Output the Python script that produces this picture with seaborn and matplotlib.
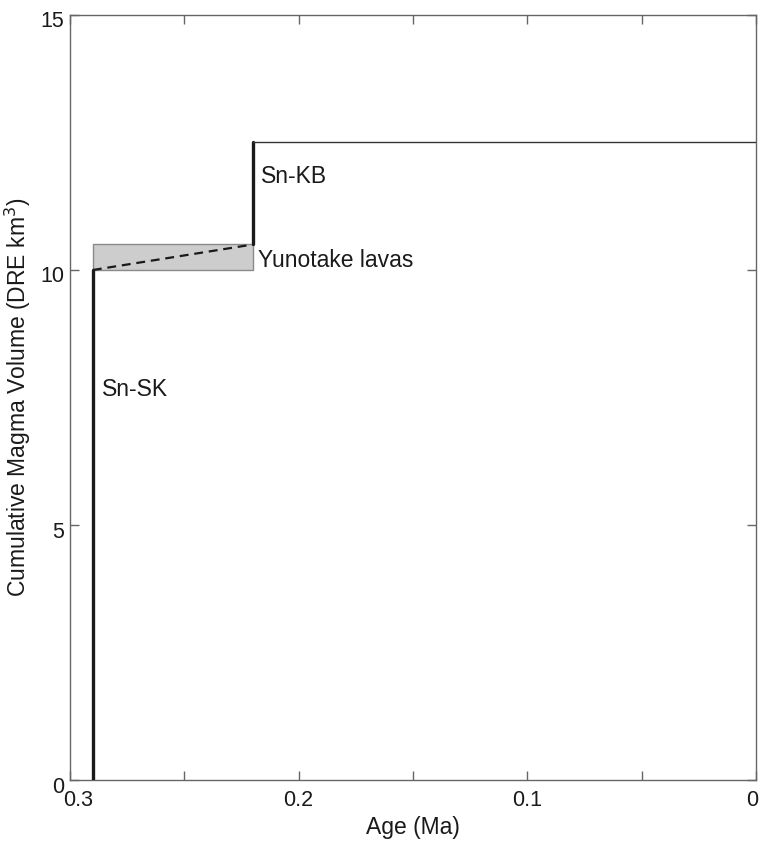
import matplotlib
matplotlib.use("Agg")
import matplotlib.pyplot as plt
from matplotlib.transforms import ScaledTranslation
import numpy as np
import pandas as pd
import seaborn as sns

# Eruption ages (Ma) and cumulative erupted magma volume (DRE km^3)
sk_age = [0.29, 0.29]
sk_vol = [0.0, 10.0]
yuno_age = [0.29, 0.22]
yuno_vol = [10.0, 10.5]
kb_age = [0.22, 0.22]
kb_vol = [10.5, 12.5]
recent_age = [0.22, 0.0]
recent_vol = [12.5, 12.5]

# Uncertainty box of the Yunotake lavas
yuno_box_age = [0.29, 0.22]
yuno_box_vol = [10.0, 10.5]

x_ticks = [0.3, 0.25, 0.2, 0.15, 0.1, 0.05, 0.0]
x_labels = ["0.3", "", "0.2", "", "0.1", "", "0"]
y_ticks = [0, 5, 10, 15]
y_labels = ["0", "5", "10", "15"]

labels = ["Sn-SK", "Yunotake lavas", "Sn-KB"]
label_age = [0.286, 0.2178, 0.2163]
label_vol = [7.65, 10.18, 11.84]

sns.set_theme(style="ticks")
plt.rcParams["font.family"] = ["Liberation Sans", "DejaVu Sans"]

fig = plt.figure(figsize=(7.6, 8.41), dpi=100)
ax = fig.add_axes([0.0921, 0.0725, 0.9026, 0.9097])

ax.fill_between(yuno_box_age, yuno_box_vol[0], yuno_box_vol[1],
                facecolor="#cdcdcd", edgecolor="#8a8a8a", linewidth=1.0, zorder=1)

segs = pd.DataFrame({
    "age": sk_age + yuno_age + kb_age + recent_age,
    "vol": sk_vol + yuno_vol + kb_vol + recent_vol,
    "unit": ["sk"] * 2 + ["yuno"] * 2 + ["kb"] * 2 + ["recent"] * 2,
})

common = dict(x="age", y="vol", sort=False, estimator=None, errorbar=None, ax=ax)
sns.lineplot(data=segs[segs.unit == "sk"], color="#1a1a1a", linewidth=2.4,
             zorder=3, **common)
sns.lineplot(data=segs[segs.unit == "kb"], color="#1a1a1a", linewidth=2.4,
             zorder=3, **common)
sns.lineplot(data=segs[segs.unit == "yuno"], color="#1a1a1a", linewidth=1.6,
             zorder=3, linestyle=(0, (4, 2.6)), **common)
sns.lineplot(data=segs[segs.unit == "recent"], color="#333333", linewidth=1.0,
             zorder=3, **common)

for txt, xa, yv in zip(labels, label_age, label_vol):
    ax.text(xa, yv, txt, fontsize=16.5, ha="left", va="center", color="#1a1a1a")

ax.set_xlim(0.3, 0.0)
ax.set_ylim(0, 15)
ax.set_xticks(x_ticks)
ax.set_xticklabels(x_labels)
ax.set_yticks(y_ticks)
ax.set_yticklabels(y_labels)

ax.set_xlabel("Age (Ma)", fontsize=16.5, labelpad=4, color="#1a1a1a")
ax.set_ylabel("Cumulative Magma Volume (DRE km$^3$)", fontsize=16.5,
              labelpad=5, color="#1a1a1a")

ax.tick_params(direction="in", top=True, right=True, length=6.5, width=1.0,
               color="#666666", labelsize=15.5, labelcolor="#1a1a1a")
ax.tick_params(axis="x", pad=7)
ax.tick_params(axis="y", pad=4)
for sp in ax.spines.values():
    sp.set_visible(True)
    sp.set_color("#666666")
    sp.set_linewidth(1.0)


def shift(label, dx, dy):
    label.set_transform(label.get_transform()
                        + ScaledTranslation(dx, dy, fig.dpi_scale_trans))


# Value labels sit a little below their ticks; keep the corner zeros apart
for lab in ax.get_yticklabels():
    shift(lab, 0, -0.045)
xlabs = ax.get_xticklabels()
shift(xlabs[0], 0.08, 0)
shift(xlabs[-1], -0.04, 0)

legend = ax.get_legend()
if legend is not None:
    legend.remove()

fig.savefig("out.png", dpi=100)
